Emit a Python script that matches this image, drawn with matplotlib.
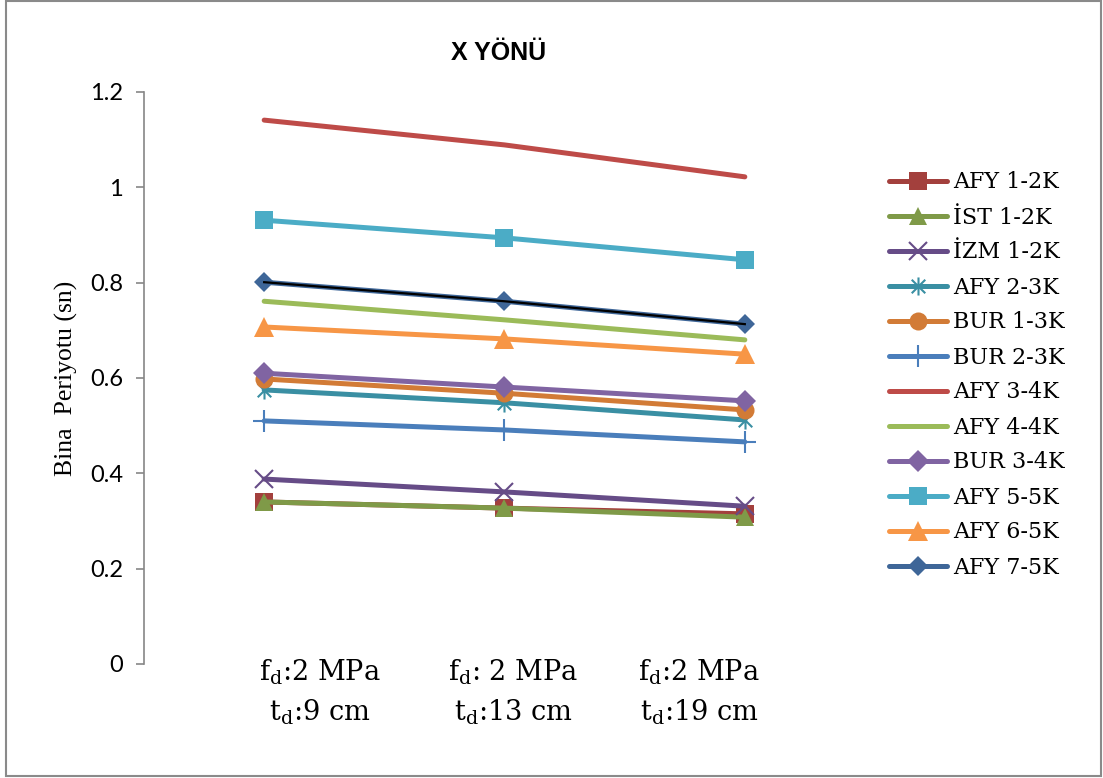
import matplotlib
matplotlib.use("Agg")
import matplotlib.pyplot as plt
from matplotlib.path import Path
from matplotlib.patches import Rectangle

plt.rcParams['mathtext.fontset'] = 'custom'
plt.rcParams['mathtext.rm'] = 'DejaVu Serif'
plt.rcParams['mathtext.it'] = 'DejaVu Serif:italic'

# ---- data ----
categories = [0, 1, 2]
cat_labels = ["f$_{\\mathrm{d}}$:2 MPa\nt$_{\\mathrm{d}}$:9 cm",
              "f$_{\\mathrm{d}}$: 2 MPa\nt$_{\\mathrm{d}}$:13 cm",
              "f$_{\\mathrm{d}}$:2 MPa\nt$_{\\mathrm{d}}$:19 cm"]
series_names = ["AFY 1-2K", "İST 1-2K", "İZM 1-2K", "AFY 2-3K", "BUR 1-3K",
                "BUR 2-3K", "AFY 3-4K", "AFY 4-4K", "BUR 3-4K", "AFY 5-5K",
                "AFY 6-5K", "AFY 7-5K"]
afy_1_2k = [0.340, 0.327, 0.315]
ist_1_2k = [0.340, 0.327, 0.308]
izm_1_2k = [0.388, 0.361, 0.331]
afy_2_3k = [0.575, 0.548, 0.512]
bur_1_3k = [0.598, 0.568, 0.533]
bur_2_3k = [0.510, 0.491, 0.466]
afy_3_4k = [1.141, 1.089, 1.022]
afy_4_4k = [0.761, 0.722, 0.680]
bur_3_4k = [0.610, 0.581, 0.552]
afy_5_5k = [0.931, 0.894, 0.848]
afy_6_5k = [0.707, 0.682, 0.650]
afy_7_5k = [0.801, 0.761, 0.713]
values = [afy_1_2k, ist_1_2k, izm_1_2k, afy_2_3k, bur_1_3k, bur_2_3k,
          afy_3_4k, afy_4_4k, bur_3_4k, afy_5_5k, afy_6_5k, afy_7_5k]
yticks = [0, 0.2, 0.4, 0.6, 0.8, 1.0, 1.2]
ytick_labels = ["0", "0.2", "0.4", "0.6", "0.8", "1", "1.2"]

# ---- styles ----
asterisk = Path([(0, -1), (0, 1), (-0.75, -0.75), (0.75, 0.75), (-0.75, 0.75), (0.75, -0.75)],
                [Path.MOVETO, Path.LINETO, Path.MOVETO, Path.LINETO, Path.MOVETO, Path.LINETO])
colors = ["#A3403D", "#7F9A48", "#664C87", "#3A8FA3", "#D27B36", "#4A7EBB",
          "#BE4B48", "#9BBB59", "#8064A2", "#4BACC6", "#F79646", "#3E6698"]
markers = ["s", "^", "x", asterisk, "o", "+", None, None, "D", "s", "^", "D"]
msizes = [13, 13, 13, 13, 13, 16, 0, 0, 11, 13, 14, 10]
mews = [0, 0, 1.5, 1.5, 0, 1.5, 0, 0, 0, 0, 0, 0]

fig = plt.figure(figsize=(11.03, 7.78), dpi=100)
ax = fig.add_axes([144 / 1103, (778 - 664) / 778, 721 / 1103, (664 - 92) / 778])

for name, vals, c, m, ms, mew in zip(series_names, values, colors, markers, msizes, mews):
    kw = dict(color=c, lw=3.6, label=name, solid_capstyle='round')
    if m is not None:
        if mew > 0:
            kw.update(marker=m, markersize=ms, markeredgewidth=mew,
                      markeredgecolor=c, markerfacecolor='none')
        else:
            kw.update(marker=m, markersize=ms, markeredgewidth=0, markerfacecolor=c)
    ax.plot(categories, vals, **kw)

# thin black overlay line on AFY 7-5K
ax.plot(categories, afy_7_5k, color='black', lw=1.6, zorder=5)

ax.set_xlim(-0.5, 2.5)
ax.set_ylim(0, 1.2)
ax.set_yticks(yticks)
ax.set_yticklabels(ytick_labels, fontfamily='Lato', fontsize=17)
ax.set_xticks([])
for s in ['top', 'right', 'bottom']:
    ax.spines[s].set_visible(False)
ax.spines['left'].set_color('#868686')
ax.spines['left'].set_linewidth(1.2)
ax.tick_params(axis='y', direction='out', length=6, width=1.2, color='#868686', pad=9)

ax.set_ylabel("Bina  Periyotu (sn)", fontfamily='Liberation Serif', fontsize=18.5, labelpad=9)

# category labels (text boxes)
label_x = [320 / 1103, 513 / 1103, 699 / 1103]
for lx, lab in zip(label_x, cat_labels):
    fig.text(lx, 1 - 692 / 778, lab, ha='center', va='center', multialignment='center',
             fontfamily='DejaVu Serif', fontsize=19.5, linespacing=1.45)

fig.text(499 / 1103, 1 - 53 / 778, "X YÖNÜ", ha='center', va='center',
         fontfamily='Liberation Sans', fontweight='bold', fontsize=18)

leg = fig.legend(loc='center left', bbox_to_anchor=(889 / 1103, 1 - 375 / 778),
                 frameon=False, prop={'family': 'DejaVu Serif', 'size': 16},
                 handlelength=2.6, handletextpad=0.3, labelspacing=0.585,
                 borderpad=0, borderaxespad=0)

fig.patches.append(Rectangle((6 / 1103, 2 / 778), 1095 / 1103, 775 / 778,
                             transform=fig.transFigure, fill=False,
                             edgecolor='#8a8a8a', lw=1.5))

fig.savefig("out.png", dpi=100)
